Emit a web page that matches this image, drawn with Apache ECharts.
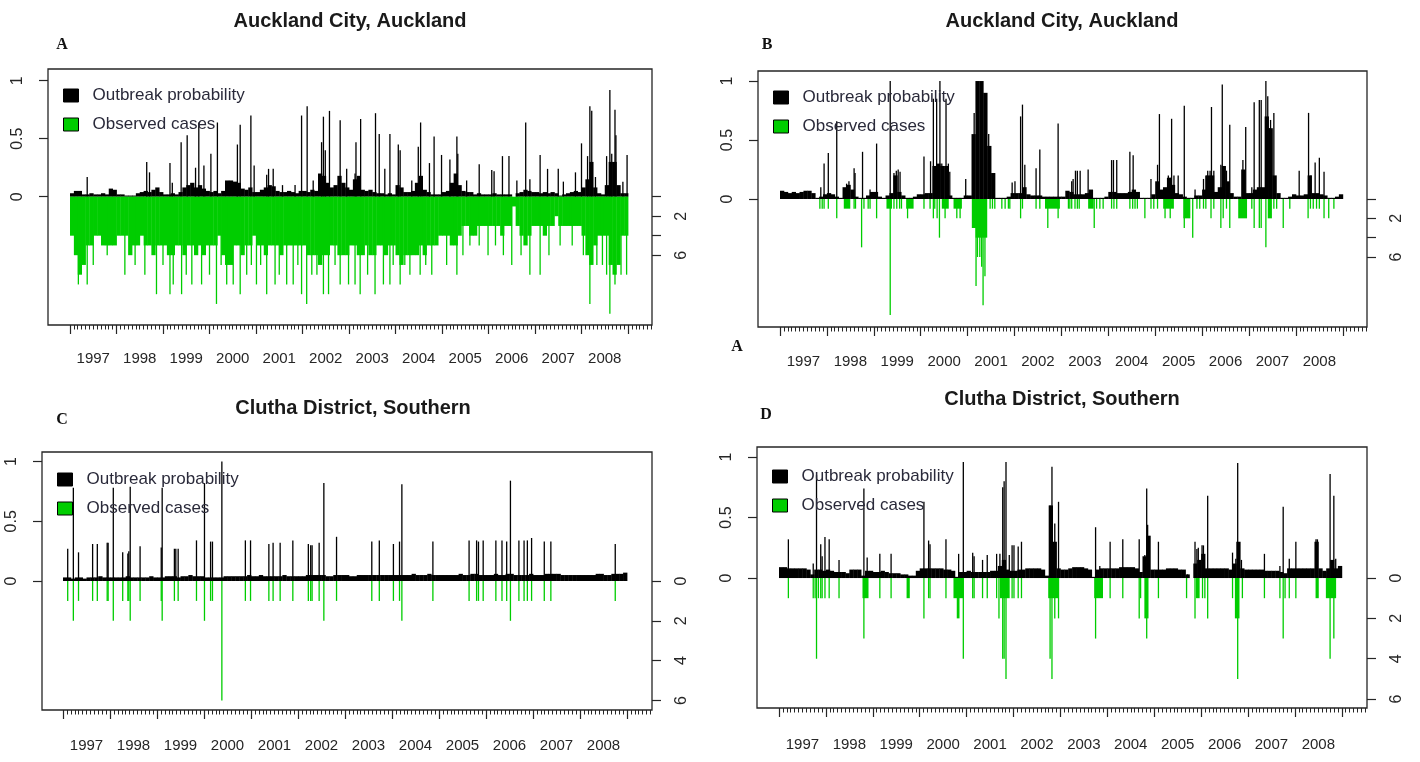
<!DOCTYPE html>
<html>
<head>
<meta charset="UTF-8">
<title>Outbreak probability and observed cases</title>
<script src="https://cdn.jsdelivr.net/npm/echarts@6/dist/echarts.min.js"></script>
<style>
  html, body { margin: 0; padding: 0; background: #fff; }
  #chart { width: 1420px; height: 762px; }
</style>
</head>
<body>
<div id="chart"></div>
<script type="text/javascript">
// ---- tick labels ----
var yearLabels = [1997, 1998, 1999, 2000, 2001, 2002, 2003, 2004, 2005, 2006, 2007, 2008];
var probTicks = [0, 0.5, 1];
var caseTicks = [0, 2, 4, 6];

// ---- A: Auckland City (left) ----
// monthly level of outbreak probability, Jan 1997 .. Dec 2008
var aProbMonthly = [
  0.03,0.05,0.05,0.02,0.02,0.03,0.02,0.02,0.03,0.02,0.07,0.06,
  0.02,0.02,0.01,0.01,0.01,0.03,0.04,0.05,0.04,0.06,0.08,0.04,
  0.02,0.02,0.03,0.02,0.04,0.08,0.10,0.12,0.08,0.10,0.07,0.05,
  0.04,0.05,0.03,0.05,0.14,0.14,0.13,0.12,0.07,0.06,0.08,0.04,
  0.04,0.06,0.08,0.10,0.09,0.05,0.04,0.04,0.05,0.04,0.03,0.05,
  0.05,0.04,0.06,0.05,0.20,0.18,0.12,0.08,0.10,0.18,0.12,0.08,
  0.06,0.15,0.18,0.06,0.05,0.06,0.04,0.03,0.03,0.02,0.03,0.02,
  0.10,0.08,0.04,0.04,0.05,0.12,0.18,0.06,0.04,0.02,0.02,0.02,
  0.04,0.05,0.12,0.20,0.10,0.05,0.04,0.04,0.02,0.03,0.02,0.02,
  0.02,0.03,0.02,0.02,0.02,0.02,0.00,0.03,0.04,0.06,0.05,0.04,
  0.04,0.03,0.04,0.03,0.04,0.03,0.01,0.02,0.03,0.04,0.05,0.04,
  0.08,0.15,0.30,0.08,0.03,0.02,0.10,0.30,0.30,0.10,0.03,0.03
];
var aProbSpikes = [
  [1997.37,0.17],[1998.65,0.30],[1998.71,0.21],[1999.15,0.29],[1999.20,0.12],[1999.39,0.47],
  [1999.52,0.53],[1999.70,0.25],[1999.77,0.64],[1999.88,0.27],[2000.03,0.37],[2000.17,0.64],
  [2000.60,0.45],[2000.66,0.62],[2000.89,0.70],[2000.96,0.27],[2001.23,0.19],[2001.27,0.24],
  [2001.37,0.24],[2001.57,0.10],[2001.84,0.10],[2001.98,0.70],[2002.10,0.78],[2002.23,0.14],
  [2002.41,0.47],[2002.45,0.69],[2002.49,0.40],[2002.58,0.74],[2002.81,0.66],[2002.95,0.24],
  [2003.13,0.20],[2003.15,0.47],[2003.25,0.67],[2003.57,0.72],[2003.65,0.54],[2003.77,0.24],
  [2003.88,0.54],[2004.06,0.45],[2004.10,0.40],[2004.35,0.14],[2004.49,0.43],[2004.54,0.64],
  [2004.73,0.29],[2004.83,0.52],[2004.99,0.36],[2005.17,0.32],[2005.32,0.52],[2005.34,0.37],
  [2005.53,0.14],[2005.80,0.28],[2006.07,0.23],[2006.12,0.22],[2006.30,0.35],[2006.44,0.35],
  [2006.61,0.14],[2006.80,0.64],[2006.89,0.15],[2007.11,0.36],[2007.27,0.24],[2007.50,0.24],
  [2007.61,0.13],[2007.87,0.21],[2008.00,0.46],[2008.13,0.35],[2008.18,0.78],[2008.22,0.74],
  [2008.30,0.17],[2008.54,0.35],[2008.61,0.92],[2008.65,0.37],[2008.72,0.75],[2008.74,0.53],
  [2008.89,0.13],[2008.98,0.36]
];
// monthly depth of the observed cases mass
var aCasesMonthly = [
  4,6,8,7,5,5,4,4,5,5,5,5,
  4,4,4,6,5,5,4,5,5,6,5,5,
  5,6,6,5,5,6,5,5,6,5,6,5,
  5,5,4,6,7,7,5,5,6,5,5,4,
  5,5,6,5,5,5,6,5,5,5,5,5,
  5,6,6,6,7,6,6,5,5,6,6,6,
  5,5,6,6,5,6,6,5,5,6,5,5,
  6,7,6,6,6,6,5,6,5,5,5,4,
  4,4,5,5,4,3,3,4,4,3,3,3,
  3,3,3,4,3,3,1,3,4,5,4,3,
  3,3,4,3,3,2,3,3,3,3,3,3,
  4,6,7,5,4,4,4,7,8,7,4,4
];
var aCasesSpikes = [
  [1997.18,9],[1997.37,9],[1997.50,7],[1997.80,6],[1998.18,8],[1998.40,7],[1998.61,8],[1998.86,10],
  [1999.00,7],[1999.15,10],[1999.22,9],[1999.40,10],[1999.50,8],[1999.62,9],[1999.83,9],[2000.00,8],
  [2000.15,11],[2000.25,7],[2000.37,9],[2000.51,9],[2000.66,10],[2000.80,8],[2000.90,7],[2001.01,9],
  [2001.10,7],[2001.23,10],[2001.41,9],[2001.50,8],[2001.66,9],[2001.80,9],[2001.90,7],[2001.98,10],
  [2002.09,11],[2002.20,8],[2002.31,8],[2002.45,10],[2002.56,10],[2002.70,7],[2002.81,9],[2002.99,9],
  [2003.13,9],[2003.24,10],[2003.40,8],[2003.56,10],[2003.74,9],[2003.88,9],[2003.95,7],[2004.10,9],
  [2004.20,7],[2004.31,8],[2004.53,8],[2004.65,7],[2004.78,8],[2005.10,7],[2005.32,8],[2005.45,6],
  [2005.60,5],[2005.80,5],[2005.99,6],[2006.15,5],[2006.32,6],[2006.50,7],[2006.70,6],[2006.89,8],
  [2007.11,8],[2007.30,6],[2007.54,5],[2007.80,5],[2008.04,6],[2008.18,11],[2008.33,7],[2008.45,7],
  [2008.54,8],[2008.61,12],[2008.72,9],[2008.85,8],[2008.97,8]
];

// ---- B: Auckland City (right) ----
var bProbMonthly = [
  0.07,0.06,0.05,0.06,0.05,0.06,0.07,0.07,0.05,0.01,0.02,0.04,
  0.05,0.04,0.02,0.01,0.10,0.12,0.08,0.02,0.01,0.01,0.03,0.06,
  0.06,0.02,0.01,0.03,0.05,0.20,0.06,0.03,0.01,0.01,0.02,0.04,
  0.04,0.05,0.05,0.28,0.30,0.28,0.28,0.03,0.01,0.01,0.01,0.03,
  0.03,0.55,1.00,1.00,0.90,0.45,0.22,0.01,0.01,0.01,0.02,0.05,
  0.05,0.05,0.10,0.04,0.03,0.03,0.03,0.02,0.02,0.02,0.02,0.02,
  0.02,0.07,0.06,0.04,0.04,0.04,0.05,0.08,0.01,0.01,0.01,0.02,
  0.06,0.06,0.05,0.05,0.05,0.06,0.08,0.06,0.01,0.01,0.01,0.04,
  0.15,0.08,0.10,0.18,0.12,0.05,0.04,0.02,0.01,0.01,0.03,0.03,
  0.08,0.20,0.20,0.06,0.10,0.28,0.15,0.05,0.02,0.02,0.25,0.05,
  0.05,0.08,0.10,0.10,0.70,0.60,0.20,0.05,0.01,0.01,0.02,0.04,
  0.03,0.03,0.04,0.20,0.05,0.05,0.04,0.03,0.01,0.01,0.02,0.04
];
var bProbSpikes = [
  [1997.87,0.10],[1997.94,0.30],[1998.03,0.39],[1998.21,0.66],[1998.42,0.13],[1998.47,0.15],
  [1998.58,0.26],[1998.60,0.22],[1998.76,0.40],[1998.92,0.08],[1999.06,0.47],[1999.35,1.00],
  [1999.43,0.22],[1999.48,0.24],[1999.52,0.25],[1999.56,0.23],[2000.07,0.36],[2000.21,0.32],
  [2000.27,0.85],[2000.34,0.85],[2000.41,1.00],[2000.45,0.30],[2000.54,0.85],[2000.59,0.30],
  [2000.62,0.23],[2000.96,0.17],[2001.11,0.45],[2001.14,0.73],[2001.45,0.55],[2001.54,0.22],
  [2001.57,0.22],[2001.95,0.14],[2002.01,0.15],[2002.13,0.70],[2002.17,0.80],[2002.22,0.29],
  [2002.46,0.26],[2002.54,0.42],[2002.93,0.64],[2003.22,0.15],[2003.25,0.17],[2003.30,0.24],
  [2003.34,0.24],[2003.40,0.24],[2003.57,0.25],[2004.07,0.33],[2004.11,0.33],[2004.18,0.33],
  [2004.46,0.40],[2004.53,0.37],[2004.91,0.17],[2005.05,0.29],[2005.09,0.72],[2005.28,0.20],
  [2005.32,0.18],[2005.35,0.68],[2005.40,0.20],[2005.49,0.20],[2005.62,0.79],[2005.85,0.08],
  [2006.03,0.17],[2006.08,0.20],[2006.12,0.24],[2006.17,0.24],[2006.20,0.78],[2006.25,0.24],
  [2006.40,0.29],[2006.43,0.97],[2006.52,0.24],[2006.59,0.63],[2006.87,0.33],[2006.93,0.61],
  [2007.06,0.10],[2007.11,0.82],[2007.22,0.84],[2007.26,0.84],[2007.36,1.00],[2007.40,0.87],
  [2007.43,0.60],[2007.46,0.67],[2007.53,0.73],[2008.07,0.24],[2008.27,0.73],[2008.32,0.20],
  [2008.41,0.31],[2008.50,0.35],[2008.60,0.23]
];
// [from, to, cases] runs of consecutive weeks
var bCasesBlocks = [
  [1998.36,1998.49,1],[1999.27,1999.38,1],[1999.69,1999.84,1],[2000.45,2000.59,1],
  [2000.70,2000.87,1],[2001.09,2001.17,3],[2001.17,2001.41,4],[2002.65,2002.96,1],
  [2003.57,2003.68,1],[2005.17,2005.39,1],[2005.60,2005.74,2],[2006.77,2006.95,2],
  [2007.40,2007.48,2]
];
var bCasesSpikes = [
  [1997.85,1],[1997.90,1],[1997.94,1],[1998.03,1],[1998.21,2],[1998.58,1],[1998.61,1],[1998.74,5],
  [1998.79,1],[1998.88,1],[1998.92,1],[1999.06,2],[1999.35,12],[1999.43,1],[1999.49,1],[1999.55,1],
  [1999.59,1],[1999.72,2],[2000.07,1],[2000.20,1],[2000.27,2],[2000.30,1],[2000.35,2],[2000.40,4],
  [2000.52,2],[2000.77,2],[2000.84,2],[2001.18,9],[2001.21,6],[2001.26,6],[2001.30,7],[2001.33,11],
  [2001.37,8],[2001.48,1],[2001.53,1],[2001.58,1],[2001.73,1],[2001.80,1],[2001.87,1],[2001.90,1],
  [2002.13,2],[2002.17,1],[2002.46,1],[2002.54,1],[2002.71,3],[2002.93,2],[2003.15,1],[2003.18,1],
  [2003.22,1],[2003.29,1],[2003.34,1],[2003.38,1],[2003.70,3],[2003.75,1],[2003.82,1],[2003.89,1],
  [2004.07,1],[2004.12,1],[2004.18,1],[2004.46,1],[2004.52,1],[2004.57,1],[2004.62,1],[2004.78,2],
  [2004.91,1],[2004.97,1],[2005.05,1],[2005.21,2],[2005.32,2],[2005.62,3],[2005.80,4],[2005.89,1],
  [2005.95,1],[2006.03,1],[2006.08,1],[2006.19,2],[2006.25,1],[2006.40,3],[2006.45,2],[2006.52,1],
  [2006.59,3],[2007.06,1],[2007.11,3],[2007.22,3],[2007.26,3],[2007.36,5],[2007.53,1],[2007.59,1],
  [2007.73,3],[2007.87,1],[2008.26,2],[2008.31,1],[2008.37,1],[2008.44,1],[2008.50,1],[2008.60,2],
  [2008.70,2],[2008.81,1]
];

// ---- C: Clutha District (left) ----
var cProbMonthly = [
  0.03,0.03,0.02,0.03,0.03,0.02,0.03,0.03,0.03,0.04,0.03,0.03,
  0.03,0.03,0.03,0.03,0.04,0.03,0.03,0.03,0.03,0.03,0.04,0.03,
  0.03,0.03,0.04,0.04,0.04,0.03,0.04,0.04,0.05,0.04,0.04,0.04,
  0.03,0.03,0.03,0.03,0.03,0.04,0.04,0.04,0.04,0.04,0.04,0.05,
  0.04,0.04,0.05,0.04,0.04,0.04,0.04,0.04,0.05,0.04,0.04,0.04,
  0.04,0.04,0.05,0.05,0.05,0.05,0.05,0.04,0.04,0.05,0.05,0.05,
  0.05,0.04,0.04,0.05,0.05,0.05,0.05,0.05,0.05,0.05,0.05,0.05,
  0.05,0.05,0.05,0.05,0.05,0.06,0.05,0.05,0.05,0.06,0.05,0.05,
  0.05,0.05,0.05,0.05,0.05,0.06,0.05,0.05,0.06,0.06,0.05,0.05,
  0.05,0.05,0.06,0.05,0.05,0.06,0.06,0.05,0.05,0.05,0.05,0.06,
  0.05,0.05,0.05,0.06,0.06,0.06,0.06,0.05,0.05,0.05,0.05,0.05,
  0.05,0.05,0.05,0.05,0.06,0.06,0.05,0.05,0.06,0.06,0.06,0.07
];
var cProbSpikes = [
  [1997.10,0.27],[1997.22,0.78],[1997.33,0.24],[1997.63,0.31],[1997.73,0.31],[1997.94,0.32],
  [1997.96,0.32],[1998.07,0.78],[1998.27,0.24],[1998.38,0.23],[1998.40,0.25],[1998.43,0.79],
  [1998.64,0.29],[1999.09,0.28],[1999.11,0.78],[1999.37,0.27],[1999.40,0.27],[1999.45,0.27],
  [1999.84,0.34],[2000.01,0.82],[2000.14,0.33],[2000.18,0.33],[2000.38,1.00],[2000.88,0.34],
  [2000.99,0.34],[2001.38,0.31],[2001.47,0.32],[2001.62,0.32],[2001.89,0.34],[2002.22,0.31],
  [2002.27,0.30],[2002.30,0.30],[2002.45,0.32],[2002.55,0.82],[2002.82,0.37],[2003.57,0.33],
  [2003.73,0.34],[2004.03,0.31],[2004.16,0.33],[2004.21,0.81],[2004.87,0.33],[2005.64,0.34],
  [2005.80,0.34],[2005.84,0.33],[2005.94,0.34],[2006.21,0.34],[2006.34,0.34],[2006.44,0.33],
  [2006.52,0.84],[2006.70,0.34],[2006.81,0.34],[2006.88,0.34],[2006.97,0.36],[2007.24,0.33],
  [2007.38,0.33],[2008.75,0.31]
];
var cCasesSpikes = [
  [1997.10,1],[1997.22,2],[1997.33,1],[1997.63,1],[1997.73,1],[1997.94,1],[1997.96,1],[1998.07,2],
  [1998.27,1],[1998.38,1],[1998.40,1],[1998.43,2],[1998.64,1],[1999.09,1],[1999.11,2],[1999.37,1],
  [1999.45,1],[1999.84,1],[2000.01,2],[2000.14,1],[2000.18,1],[2000.38,6],[2000.88,1],[2000.99,1],
  [2001.38,1],[2001.47,1],[2001.62,1],[2001.89,1],[2002.22,1],[2002.27,1],[2002.30,1],[2002.45,1],
  [2002.55,2],[2002.82,1],[2003.57,1],[2003.73,1],[2004.03,1],[2004.16,1],[2004.21,2],[2004.87,1],
  [2005.64,1],[2005.80,1],[2005.84,1],[2005.94,1],[2006.21,1],[2006.34,1],[2006.44,1],[2006.52,2],
  [2006.70,1],[2006.81,1],[2006.88,1],[2006.97,1],[2007.24,1],[2007.38,1],[2008.75,1]
];

// ---- D: Clutha District (right) ----
var dProbMonthly = [
  0.09,0.09,0.08,0.08,0.08,0.08,0.08,0.07,0.03,0.07,0.07,0.06,
  0.07,0.06,0.05,0.05,0.05,0.04,0.07,0.07,0.07,0.02,0.06,0.06,
  0.05,0.05,0.06,0.05,0.04,0.04,0.04,0.03,0.03,0.02,0.02,0.06,
  0.08,0.08,0.08,0.08,0.08,0.08,0.07,0.07,0.06,0.01,0.05,0.05,
  0.06,0.05,0.05,0.05,0.05,0.05,0.06,0.06,0.10,0.15,0.07,0.06,
  0.06,0.07,0.07,0.08,0.08,0.08,0.08,0.07,0.02,0.60,0.30,0.08,
  0.07,0.07,0.08,0.09,0.09,0.09,0.08,0.07,0.01,0.07,0.08,0.08,
  0.08,0.08,0.08,0.09,0.09,0.09,0.09,0.08,0.05,0.18,0.35,0.07,
  0.07,0.07,0.07,0.08,0.08,0.08,0.07,0.07,0.03,0.00,0.12,0.15,
  0.20,0.08,0.08,0.08,0.08,0.08,0.08,0.07,0.12,0.30,0.08,0.07,
  0.07,0.07,0.07,0.07,0.06,0.06,0.06,0.06,0.05,0.04,0.08,0.08,
  0.08,0.08,0.08,0.08,0.08,0.30,0.08,0.06,0.08,0.15,0.08,0.10
];
var dProbSpikes = [
  [1997.20,0.32],[1997.73,0.12],[1997.80,0.85],[1997.89,0.28],[1997.92,0.18],[1997.98,0.34],
  [1998.07,0.32],[1998.28,0.15],[1998.81,0.74],[1998.88,0.17],[1999.15,0.20],[1999.39,0.20],
  [2000.09,0.63],[2000.19,0.31],[2000.22,0.28],[2000.56,0.32],[2000.83,0.20],[2000.93,0.96],
  [2001.13,0.21],[2001.16,0.18],[2001.34,0.15],[2001.44,0.19],[2001.64,0.20],[2001.71,0.20],
  [2001.77,0.75],[2001.80,0.80],[2001.84,0.96],[2001.91,0.19],[2001.97,0.27],[2002.01,0.27],
  [2002.10,0.26],[2002.17,0.30],[2002.78,0.60],[2002.82,0.92],[2002.88,0.45],[2002.96,0.63],
  [2003.75,0.42],[2003.84,0.10],[2004.06,0.30],[2004.33,0.32],[2004.68,0.32],[2004.80,0.19],
  [2004.84,0.74],[2004.86,0.44],[2005.09,0.30],[2005.71,0.03],[2005.87,0.30],[2005.91,0.24],
  [2005.94,0.25],[2006.02,0.27],[2006.05,0.27],[2006.14,0.68],[2006.67,0.21],[2006.74,0.16],
  [2006.78,0.95],[2006.81,0.27],[2006.86,0.15],[2007.35,0.20],[2007.68,0.10],[2007.75,0.59],
  [2007.88,0.16],[2008.02,0.30],[2008.45,0.32],[2008.48,0.32],[2008.66,0.05],[2008.75,0.86],
  [2008.83,0.68],[2008.87,0.16]
];
var dCasesBlocks = [
  [1998.78,1998.90,1],[1999.72,1999.78,1],[2000.72,2000.93,1],[2000.79,2000.84,2],
  [2001.71,2001.91,1],[2002.74,2002.96,1],[2003.72,2003.90,1],[2004.79,2004.87,2],
  [2005.89,2005.96,1],[2006.72,2006.81,2],[2008.44,2008.50,1],[2008.66,2008.87,1]
];
var dCasesSpikes = [
  [1997.20,1],[1997.73,1],[1997.77,1],[1997.80,4],[1997.84,1],[1997.89,1],[1997.92,1],[1997.98,1],
  [1998.07,1],[1998.28,1],[1998.81,3],[1999.15,1],[1999.39,1],[2000.09,2],[2000.19,1],[2000.22,1],
  [2000.56,1],[2000.93,4],[2001.13,1],[2001.16,1],[2001.34,1],[2001.44,1],[2001.64,1],[2001.69,2],
  [2001.77,4],[2001.80,4],[2001.84,5],[2001.97,1],[2002.01,1],[2002.10,1],[2002.17,1],[2002.78,4],
  [2002.82,5],[2002.88,2],[2002.96,2],[2003.75,3],[2004.06,1],[2004.33,1],[2004.68,2],[2004.71,1],
  [2004.84,3],[2005.09,1],[2005.69,1],[2005.87,2],[2006.03,1],[2006.08,1],[2006.14,2],[2006.67,1],
  [2006.78,5],[2006.88,1],[2007.35,1],[2007.68,1],[2007.75,3],[2007.79,1],[2007.88,1],[2008.02,1],
  [2008.75,4],[2008.83,3]
];

var FONT = "'Liberation Sans', Arial, sans-serif";
var SERIF = "'Liberation Serif', 'Times New Roman', serif";
var INK = '#262626';
var GREEN = '#00CD00';

// year ticks at year starts, labels in mid-year, month minor ticks
var yearTicks = yearLabels.concat([2009]);
var yearMid = yearLabels.map(function (y) { return y + 0.5; });
var monthTicks = [];
for (var k = 0; k <= 150; k++) monthTicks.push(1997 + k / 12);

function monthBlocks(vals) {
    return vals.map(function (v, i) { return [1997 + i / 12, 1997 + (i + 1) / 12, v]; });
}
function weekBlocks(list) {
    return list.map(function (p) { return [p[0] - 0.5 / 52, p[0] + 0.5 / 52, p[1]]; });
}

function renderBlock(params, api) {
    var a = api.coord([api.value(0), 0]);
    var b = api.coord([api.value(1), api.value(2)]);
    var x = a[0], w = b[0] - a[0];
    if (w < 1.3) { x = (a[0] + b[0]) / 2 - 0.65; w = 1.3; } else { w += 0.4; }
    return {
        type: 'rect',
        shape: { x: x, y: Math.min(a[1], b[1]), width: w, height: Math.abs(b[1] - a[1]) },
        style: { fill: api.visual('color') }
    };
}

function blockSeries(name, data, color, xi, yi) {
    return {
        type: 'custom', name: name, xAxisIndex: xi, yAxisIndex: yi,
        data: data, clip: true, silent: true, animation: false,
        encode: { x: [0, 1], y: 2 },
        itemStyle: { color: color },
        renderItem: renderBlock
    };
}

var panels = [
    { box: [48, 69, 604, 256], x: [1996.527, 2009.516], yl: [-1.106, 1.101], yr: [-13.1, 13.16],
      caseLabels: [2, 6], xMargin: 26, legend: [63, 87],
      prob: monthBlocks(aProbMonthly), probSpikes: aProbSpikes,
      cases: monthBlocks(aCasesMonthly), caseSpikes: aCasesSpikes },
    { box: [758, 71, 609, 256], x: [1996.531, 2009.516], yl: [-1.085, 1.085], yr: [-13.24, 13.24],
      caseLabels: [2, 6], xMargin: 27, legend: [773, 89],
      prob: monthBlocks(bProbMonthly), probSpikes: bProbSpikes,
      cases: bCasesBlocks, caseSpikes: bCasesSpikes },
    { box: [42, 452, 610, 258], x: [1996.553, 2009.532], yl: [-1.08, 1.08], yr: [-6.48, 6.48],
      caseLabels: [0, 2, 4, 6], xMargin: 28, legend: [57, 471],
      prob: monthBlocks(cProbMonthly), probSpikes: cProbSpikes,
      cases: [], caseSpikes: cCasesSpikes },
    { box: [757, 447, 610, 261], x: [1996.531, 2009.537], yl: [-1.074, 1.083], yr: [-6.49, 6.44],
      caseLabels: [0, 2, 4, 6], xMargin: 29, legend: [772, 468],
      prob: monthBlocks(dProbMonthly), probSpikes: dProbSpikes,
      cases: dCasesBlocks, caseSpikes: dCasesSpikes }
];

var grids = [], xAxes = [], yAxes = [], series = [], legends = [];
var tickLine = { color: INK, width: 1.2 };

panels.forEach(function (p, i) {
    grids.push({ left: p.box[0], top: p.box[1], width: p.box[2], height: p.box[3],
        show: true, borderColor: INK, borderWidth: 1.3, backgroundColor: 'transparent' });

    xAxes.push({ type: 'value', gridIndex: i, position: 'bottom', min: p.x[0], max: p.x[1],
        axisLine: { show: false, onZero: false }, splitLine: { show: false },
        axisTick: { show: true, length: 9, customValues: yearTicks, lineStyle: tickLine },
        axisLabel: { customValues: yearMid, margin: p.xMargin, fontSize: 15, color: INK, fontFamily: FONT,
            formatter: function (v) { return String(Math.floor(v)); } } });
    xAxes.push({ type: 'value', gridIndex: i, position: 'bottom', offset: 0, min: p.x[0], max: p.x[1],
        axisLine: { show: false, onZero: false }, splitLine: { show: false }, axisLabel: { show: false },
        axisTick: { show: true, length: 4.5, customValues: monthTicks, lineStyle: { color: INK, width: 1 } } });

    yAxes.push({ type: 'value', gridIndex: i, position: 'left', min: p.yl[0], max: p.yl[1],
        axisLine: { show: false, onZero: false }, splitLine: { show: false },
        axisTick: { show: true, length: 9, customValues: probTicks, lineStyle: tickLine },
        axisLabel: { customValues: probTicks, rotate: 90, margin: 22, fontSize: 16, color: INK, fontFamily: FONT,
            formatter: function (v) { return String(v); } } });
    yAxes.push({ type: 'value', gridIndex: i, position: 'right', inverse: true, min: p.yr[0], max: p.yr[1],
        axisLine: { show: false, onZero: false }, splitLine: { show: false },
        axisTick: { show: true, length: 9, customValues: caseTicks, lineStyle: tickLine },
        axisLabel: { customValues: p.caseLabels, rotate: 90, margin: 22, fontSize: 16, color: INK, fontFamily: FONT,
            formatter: function (v) { return String(v); } } });

    series.push(blockSeries('probLevel' + i, p.prob, '#000', 2 * i, 2 * i));
    series.push(blockSeries('Outbreak probability', weekBlocks(p.probSpikes), '#000', 2 * i, 2 * i));
    series.push(blockSeries('caseLevel' + i, p.cases, GREEN, 2 * i, 2 * i + 1));
    series.push(blockSeries('Observed cases', weekBlocks(p.caseSpikes), GREEN, 2 * i, 2 * i + 1));

    legends.push({ data: ['Outbreak probability', 'Observed cases'], orient: 'vertical',
        left: p.legend[0], top: p.legend[1], padding: 0, icon: 'rect',
        itemWidth: 15, itemHeight: 13, itemGap: 12, selectedMode: false,
        itemStyle: { borderColor: '#000', borderWidth: 1 },
        textStyle: { fontSize: 17, color: '#2a2a3a', fontFamily: FONT, padding: [0, 0, 0, 9] } });
});

function heading(text, x, y) {
    return { text: text, left: x, top: y, textAlign: 'center', padding: 0,
        textStyle: { fontSize: 20, fontWeight: 'bold', color: '#1a1a1a', fontFamily: FONT } };
}
function letter(text, x, y) {
    return { text: text, left: x, top: y, textAlign: 'center', padding: 0,
        textStyle: { fontSize: 16, fontWeight: 'bold', color: '#111', fontFamily: SERIF } };
}

var chart = echarts.init(document.getElementById('chart'));
chart.setOption({
    backgroundColor: '#fff',
    animation: false,
    title: [
        heading('Auckland City, Auckland', 350, 11),
        heading('Auckland City, Auckland', 1062, 11),
        heading('Clutha District, Southern', 353, 398),
        heading('Clutha District, Southern', 1062, 389),
        letter('A', 62, 37),
        letter('B', 767, 37),
        letter('A', 737, 339),
        letter('C', 62, 412),
        letter('D', 766, 407)
    ],
    legend: legends,
    grid: grids,
    xAxis: xAxes,
    yAxis: yAxes,
    series: series
});
</script>
</body>
</html>
